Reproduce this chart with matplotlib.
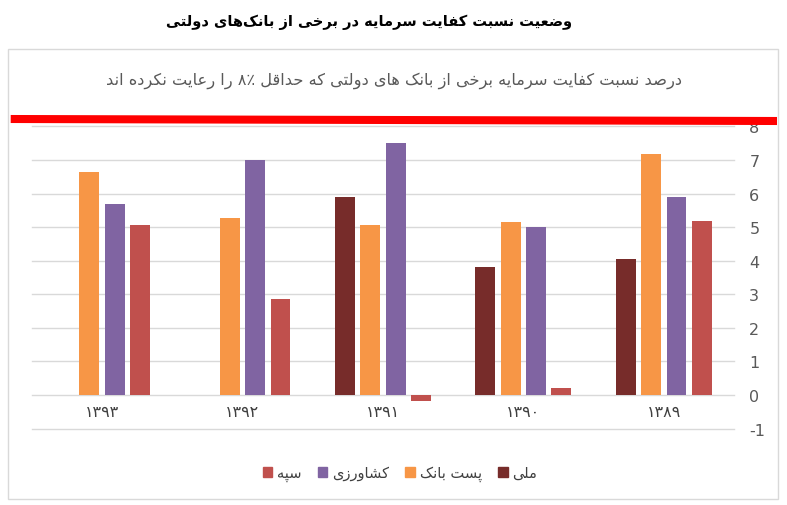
import re
import numpy as np
import matplotlib
matplotlib.use("Agg")
import matplotlib.pyplot as plt
from matplotlib.lines import Line2D
from matplotlib.patches import Rectangle, Patch

plt.rcParams['font.family'] = ['DejaVu Sans']
plt.rcParams['axes.unicode_minus'] = False

title = "وضعیت نسبت کفایت سرمایه در برخی از بانک‌های دولتی"
subtitle = "درصد نسبت کفایت سرمایه برخی از بانک های دولتی که حداقل ۸٪ را رعایت نکرده اند"
years = ["۱۳۹۳", "۱۳۹۲", "۱۳۹۱", "۱۳۹۰", "۱۳۸۹"]
banks = ["ملی", "پست بانک", "کشاورزی", "سپه"]
melli = [np.nan, np.nan, 5.89, 3.82, 4.05]
post_bank = [6.63, 5.27, 5.07, 5.15, 7.18]
keshavarzi = [5.70, 7.00, 7.50, 5.00, 5.90]
sepah = [5.07, 2.86, -0.18, 0.22, 5.19]
colors = ["#772C2A", "#F79646", "#8064A2", "#C0504D"]

# arabic presentation forms: isolated, final, initial, medial
FORMS = {
    'ا': (0xFE8D, 0xFE8E, None, None),
    'ب': (0xFE8F, 0xFE90, 0xFE91, 0xFE92),
    'پ': (0xFB56, 0xFB57, 0xFB58, 0xFB59),
    'ت': (0xFE95, 0xFE96, 0xFE97, 0xFE98),
    'ج': (0xFE9D, 0xFE9E, 0xFE9F, 0xFEA0),
    'ح': (0xFEA1, 0xFEA2, 0xFEA3, 0xFEA4),
    'خ': (0xFEA5, 0xFEA6, 0xFEA7, 0xFEA8),
    'د': (0xFEA9, 0xFEAA, None, None),
    'ذ': (0xFEAB, 0xFEAC, None, None),
    'ر': (0xFEAD, 0xFEAE, None, None),
    'ز': (0xFEAF, 0xFEB0, None, None),
    'س': (0xFEB1, 0xFEB2, 0xFEB3, 0xFEB4),
    'ش': (0xFEB5, 0xFEB6, 0xFEB7, 0xFEB8),
    'ص': (0xFEB9, 0xFEBA, 0xFEBB, 0xFEBC),
    'ض': (0xFEBD, 0xFEBE, 0xFEBF, 0xFEC0),
    'ط': (0xFEC1, 0xFEC2, 0xFEC3, 0xFEC4),
    'ع': (0xFEC9, 0xFECA, 0xFECB, 0xFECC),
    'غ': (0xFECD, 0xFECE, 0xFECF, 0xFED0),
    'ف': (0xFED1, 0xFED2, 0xFED3, 0xFED4),
    'ق': (0xFED5, 0xFED6, 0xFED7, 0xFED8),
    'ک': (0xFB8E, 0xFB8F, 0xFB90, 0xFB91),
    'گ': (0xFB92, 0xFB93, 0xFB94, 0xFB95),
    'ل': (0xFEDD, 0xFEDE, 0xFEDF, 0xFEE0),
    'م': (0xFEE1, 0xFEE2, 0xFEE3, 0xFEE4),
    'ن': (0xFEE5, 0xFEE6, 0xFEE7, 0xFEE8),
    'ه': (0xFEE9, 0xFEEA, 0xFEEB, 0xFEEC),
    'و': (0xFEED, 0xFEEE, None, None),
    'ی': (0xFBFC, 0xFBFD, 0xFBFE, 0xFBFF),
}


def joins_forward(c):
    return c in FORMS and FORMS[c][2] is not None


def shape(s):
    out = []
    for i, c in enumerate(s):
        if c not in FORMS:
            out.append(c)
            continue
        prev = s[i - 1] if i > 0 else ''
        nxt = s[i + 1] if i + 1 < len(s) else ''
        jp = joins_forward(prev)
        jn = joins_forward(c) and nxt in FORMS
        f = FORMS[c]
        if jp and jn:
            out.append(chr(f[3]))
        elif jp:
            out.append(chr(f[1]))
        elif jn:
            out.append(chr(f[2]))
        else:
            out.append(chr(f[0]))
    return ''.join(out).replace('\u200c', '')


def fa(s):
    s = shape(s)
    # digit runs stay left to right, the rest is laid out right to left
    runs = re.findall(r'[۰-۹0-9٪]+|[^۰-۹0-9٪]+', s)
    return ''.join(r if re.match(r'[۰-۹0-9]', r) else r[::-1] for r in reversed(runs))


fig = plt.figure(figsize=(7.87, 5.06), dpi=100)
W, H = 787.0, 506.0

# chart frame
fig.add_artist(Rectangle((8 / W, 1 - 500 / H), 770 / W, 450 / H, transform=fig.transFigure,
                         fill=False, edgecolor='#D9D9D9', linewidth=1))

fig.text(369 / W, 1 - 22 / H, fa(title), ha='center', va='center', fontsize=10.5, fontweight='bold')
fig.text(394 / W, 1 - 81 / H, fa(subtitle), ha='center', va='center', fontsize=11.7, color='#595959')

ax = fig.add_axes([31.7 / W, 1 - 429.6 / H, (734 - 31.7) / W, (429.6 - 127.4) / H])
x = np.arange(len(years))
width = 0.142
step = 0.181
series = [melli, post_bank, keshavarzi, sepah]
for i, (vals, col, name) in enumerate(zip(series, colors, banks)):
    ax.bar(x + (i - 1.5) * step, vals, width, color=col, label=name)

ax.set_xlim(-0.5, 4.5)
ax.set_ylim(-1, 8)
ax.set_yticks(range(-1, 9))
ax.yaxis.grid(True, color='#D9D9D9', linewidth=1)
for gl in ax.get_ygridlines():
    gl.set_clip_on(False)
ax.set_axisbelow(True)
for sp in ax.spines.values():
    sp.set_visible(False)
ax.yaxis.tick_right()
ax.tick_params(axis='y', length=0, pad=11, labelsize=11.5, labelcolor='#595959')
ax.set_xticks([])
for xi, yr in zip(x, years):
    ax.text(xi, -0.5, fa(yr), ha='center', va='center', fontsize=11.5, color='#404040')

# hand drawn red line at the 8% minimum
fig.add_artist(Line2D([10.7 / W, 777 / W], [1 - 120 / H, 1 - 122 / H], transform=fig.transFigure,
                      color='#FF0000', linewidth=5.8, solid_capstyle='butt'))

handles = [Patch(color=c) for c in colors][::-1]
labels = [fa(b) for b in banks][::-1]
fig.legend(handles, labels, loc='center', bbox_to_anchor=(400 / W, 1 - 474 / H), ncol=4,
           frameon=False, markerfirst=True, handlelength=0.65, handleheight=0.65,
           handletextpad=0.35, columnspacing=1.1, fontsize=10.5, labelcolor='#404040')

fig.savefig('out.png', dpi=100)
